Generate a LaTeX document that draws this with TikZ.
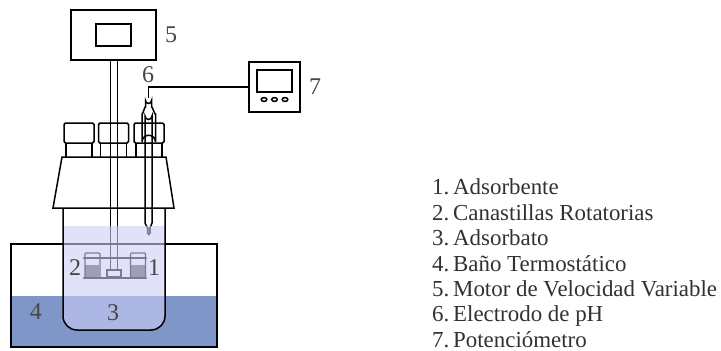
\documentclass[tikz,border=0pt]{standalone}
\usepackage{fontspec}
\setmainfont{Liberation Serif}
\usetikzlibrary{positioning}
\definecolor{bathBlue}{RGB}{127,151,200}
\definecolor{liqBlue}{RGB}{205,205,247}
\definecolor{numGray}{RGB}{70,70,70}

\begin{document}
\begin{tikzpicture}[
    x=1pt, y=-1pt,
    ln/.style={black, line width=1.5pt},
    thin ln/.style={black, line width=1.3pt},
    box/.style={draw=black, line width=1.5pt, inner sep=0pt},
    liquid/.style={fill=liqBlue, fill opacity=0.6},
    num/.style={font=\fontsize{24}{26}\selectfont, text=numGray, inner sep=0pt},
    legend/.style={font=\fontsize{22.9}{25}\selectfont, text=numGray!70!black, inner sep=0pt, anchor=base west},
]
\useasboundingbox (0, 0) rectangle (721, 351);
% bath
\fill[bathBlue] (11, 296) rectangle (217, 347);
\draw[ln] (11, 244) rectangle (217, 347);
% shaft
\draw[ln] (110.5, 60) -- (110.5, 271);
\draw[ln] (117.5, 60) -- (117.5, 271);
% baskets
\fill[black!65] (85, 265) rectangle (99, 277);
\fill[black!65] (131, 265) rectangle (145, 277);
\foreach \bx in {85, 130.5} {
  \draw[thin ln, rounded corners=1] (\bx, 277) -- (\bx, 253) -- (\bx+15, 253) -- (\bx+15, 277);
}
\draw[ln, line width=2.6pt, line cap=round] (84, 258) -- (146, 258);
\draw[ln, line width=2.6pt, line cap=round] (84, 278) -- (146, 278);
\draw[thin ln, fill=white] (107, 270) rectangle (121, 277);
% caps and lid
\foreach \cx in {79, 113.5, 149} {
  \draw[ln, rounded corners=1.5] (\cx-15, 143) rectangle (\cx+15, 123);
  \draw[ln] (\cx-13, 143) -- (\cx-13, 157);
  \draw[ln] (\cx+13, 143) -- (\cx+13, 157);
}
\draw[ln] (62, 157) -- (166, 157) -- (174, 208) -- (53, 208) -- cycle;
% electrode
\coordinate (tip) at (148.5, 97.5);
\draw[ln] (145, 223) -- (145, 116) arc[start angle=180, end angle=0, radius=3.5] -- (152, 223) -- (150, 228) -- (147.5, 228) -- cycle;
\draw[ln, fill=black!65] (147.5, 228) -- (147.5, 233) -- (148.75, 234.5) -- (150, 233) -- (150, 228);
\draw[ln] (145.5, 107) -- (145.5, 100.5) arc[start angle=180, end angle=0, radius=3] -- (151.5, 107) to[out=90, in=-90] (155.5, 114) -- (155.5, 142) arc[start angle=0, end angle=-180, radius=6.75] -- (142, 114) to[out=-90, in=90] cycle;
% liquid over everything below
\fill[liquid] (63, 226) -- (63, 316) arc[start angle=180, end angle=90, radius=14] -- (151, 330) arc[start angle=90, end angle=0, radius=14] -- (165, 226) -- cycle;
\draw[ln] (63, 208) -- (63, 316) arc[start angle=180, end angle=90, radius=14] -- (151, 330) arc[start angle=90, end angle=0, radius=14] -- (165, 208);
% motor
\node[box, minimum width=85pt, minimum height=50pt] (motor) at (113.5, 35) {};
\node[box, minimum width=35pt, minimum height=22pt] (motorWin) at (113.5, 35) {};
% potentiometer
\node[box, minimum width=51pt, minimum height=50pt] (pot) at (274.5, 87) {};
\node[box, minimum width=35pt, minimum height=22pt] (potWin) at (274.5, 81) {};
\foreach \kx in {264, 274.5, 285} {
  \draw[ln, fill=white] (\kx, 99.5) ellipse (2.8 and 1.9);
}
\draw[ln] (tip) |- (pot.west);
% numbers
\node[num] (n1) at (154, 268) {1};
\node[num] (n2) at (75, 268) {2};
\node[num] (n3) at (113, 313) {3};
\node[num] (n4) at (36, 312) {4};
\node[num] (n5) at (171, 35) {5};
\node[num] (n6) at (148, 75) {6};
\node[num] (n7) at (315, 87) {7};
% legend
\foreach \i/\txt in {0/1.\,Adsorbente, 1/2.\,Canastillas Rotatorias, 2/3.\,Adsorbato, 3/4.\,Baño Termostático, 4/5.\,Motor de Velocidad Variable, 5/6.\,Electrodo de pH, 6/7.\,Potenciómetro} {
  \node[legend] (leg\i) at (432, 194.8+25.4*\i) {\txt};
}
\end{tikzpicture}
\end{document}
